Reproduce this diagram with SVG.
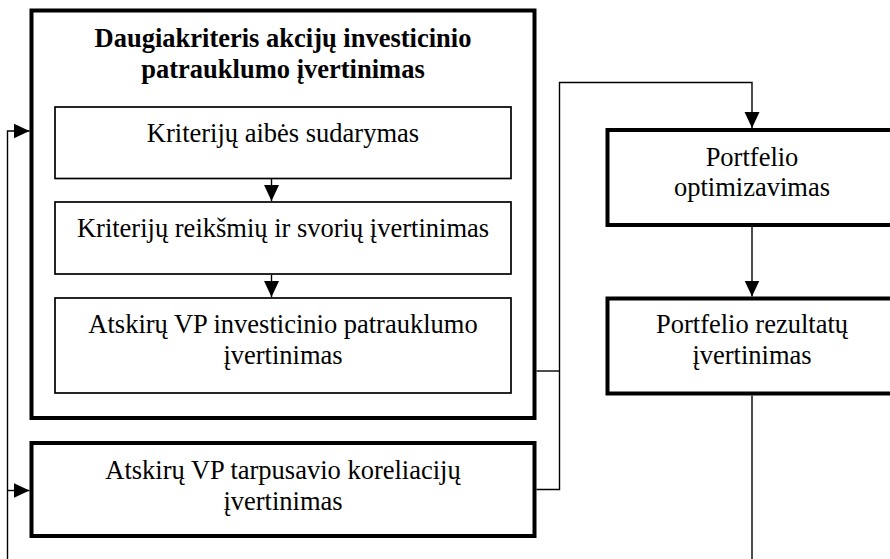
<svg xmlns="http://www.w3.org/2000/svg" width="890" height="559" viewBox="0 0 890 559">
<style>
.thick{fill:#fff;stroke:#000;stroke-width:4}
.thin{fill:#fff;stroke:#000;stroke-width:1.7}
.c{fill:none;stroke:#000;stroke-width:1.4}
text{font-family:"Liberation Serif","Times New Roman",serif;font-size:26.5px;fill:#000;text-anchor:middle}
.b{font-weight:bold}
</style>
<defs>
<marker id="ah" viewBox="0 0 16 16" markerWidth="16" markerHeight="16" refX="16" refY="8" orient="auto" markerUnits="userSpaceOnUse">
<path d="M0,0.5 L16,8 L0,15.5 Z" fill="#000"/>
</marker>
</defs>
<g id="n-outer">
<rect class="thick" x="31.5" y="10.5" width="503" height="407.5"/>
<text class="b" x="283" y="47">Daugiakriteris akcijų investicinio</text>
<text class="b" x="283" y="78">patrauklumo įvertinimas</text>
</g>
<g id="n-kriteriju-aibe">
<rect class="thin" x="55" y="107" width="456" height="71.5"/>
<text x="283" y="142">Kriterijų aibės sudarymas</text>
</g>
<g id="n-kriteriju-reiksmes">
<rect class="thin" x="55" y="202" width="456" height="72"/>
<text x="283" y="237">Kriterijų reikšmių ir svorių įvertinimas</text>
</g>
<g id="n-atskiru-patrauklumas">
<rect class="thin" x="55" y="298" width="456" height="95"/>
<text x="283" y="333">Atskirų VP investicinio patrauklumo</text>
<text x="283" y="364">įvertinimas</text>
</g>
<g id="n-koreliacijos">
<rect class="thick" x="31.5" y="443" width="503" height="93"/>
<text x="283" y="479">Atskirų VP tarpusavio koreliacijų</text>
<text x="283" y="510">įvertinimas</text>
</g>
<g id="n-optimizavimas">
<rect class="thick" x="607.5" y="130" width="289" height="95"/>
<text x="752" y="166">Portfelio</text>
<text x="752" y="196">optimizavimas</text>
</g>
<g id="n-rezultatai">
<rect class="thick" x="607.5" y="298.5" width="289" height="95"/>
<text x="752" y="333">Portfelio rezultatų</text>
<text x="752" y="364">įvertinimas</text>
</g>
<g id="connectors">
<line class="c" x1="271.5" y1="179" x2="271.5" y2="201" marker-end="url(#ah)"/>
<line class="c" x1="271.5" y1="275" x2="271.5" y2="297" marker-end="url(#ah)"/>
<polyline class="c" points="536.5,371 559.5,371"/>
<polyline class="c" points="536.5,489.5 559.5,489.5 559.5,82.5 752,82.5 752,128" marker-end="url(#ah)"/>
<line class="c" x1="752" y1="227" x2="752" y2="296.5" marker-end="url(#ah)"/>
<line class="c" x1="752" y1="395.5" x2="752" y2="559"/>
<polyline class="c" points="7.5,559 7.5,131 29.5,131" marker-end="url(#ah)"/>
<line class="c" x1="7.5" y1="490.5" x2="29.5" y2="490.5" marker-end="url(#ah)"/>
</g>
</svg>
